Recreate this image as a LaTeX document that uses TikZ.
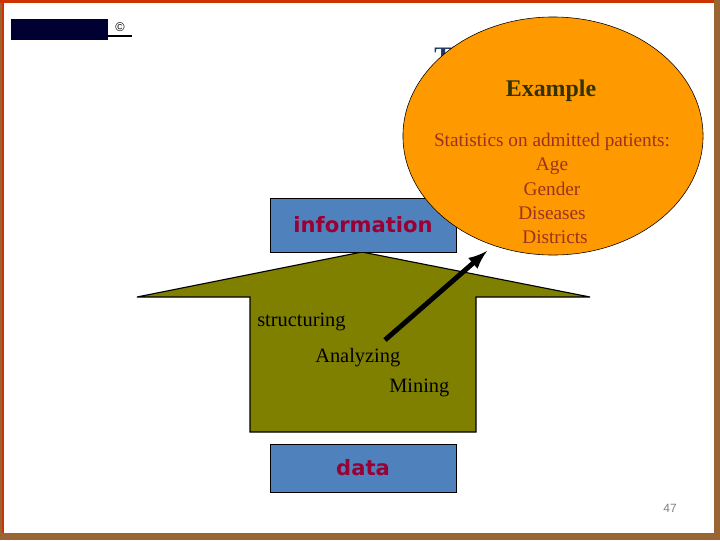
\documentclass[tikz,border=0pt]{standalone}
\usepackage{fontspec}
\setmainfont{Liberation Serif}
\setsansfont{Liberation Sans}
\newfontfamily\boxfont{DejaVu Sans}
\usetikzlibrary{shapes.geometric}

\definecolor{framebrown}{HTML}{996633}
\definecolor{framered}{HTML}{CC3300}
\definecolor{logonavy}{HTML}{000033}
\definecolor{titleblue}{HTML}{1F3864}
\definecolor{boxblue}{HTML}{4F81BD}
\definecolor{labelred}{HTML}{990033}
\definecolor{arrowolive}{HTML}{808000}
\definecolor{ovalorange}{HTML}{FF9900}
\definecolor{ovaltext}{HTML}{993322}
\definecolor{headdark}{HTML}{333300}

\begin{document}
\begin{tikzpicture}[x=0.025cm, y=-0.025cm]
	% Node style
	\tikzstyle{block} = [rectangle, draw=black, fill=boxblue, text=labelred, font=\boxfont\bfseries\fontsize{15}{18}\selectfont, minimum width=4.65cm, minimum height=1.35cm, inner sep=0pt]
	\tikzstyle{stage} = [anchor=west, inner sep=0pt, font=\fontsize{14.5}{17}\selectfont]
	\tikzstyle{item} = [inner sep=0pt, text=ovaltext, font=\fontsize{13.7}{16}\selectfont]
	
	% Frame
	\useasboundingbox (0,0) rectangle (720,540);
	\fill[framebrown] (0,0) rectangle (720,540);
	\fill[white] (2,3) rectangle (714,533);
	\fill[framered] (0,0) rectangle (714,3);
	\fill[framered] (2,3) rectangle (4,533);
	
	% Logo
	\fill[logonavy] (11,19) rectangle (108,40);
	\node[inner sep=0pt, font=\sffamily\fontsize{9}{10}\selectfont] (copyright) at (120,27) {\textcopyright};
	\draw[line width=1.2pt] (108,36) -- (132,36);
	
	% Title, mostly hidden by the oval
	\node[anchor=west, inner sep=0pt, text=titleblue, font=\bfseries\fontsize{19}{22}\selectfont] (title) at (434,56) {Th};
	
	% Big arrow
	\filldraw[fill=arrowolive, draw=black, line width=0.8pt] (250,432) -- (250,297) -- (137,297) -- (362,252) -- (590,297) -- (476,297) -- (476,432) -- cycle;
	
	% Nodes
	\node[block] (information) at (363,225) {information};
	\node[block, minimum height=1.2cm] (data) at (363,468) {data};
	
	\node[stage] (structuring) at (257,322) {structuring};
	\node[stage] (analyzing) at (315,358) {Analyzing};
	\node[stage] (mining) at (389,388) {Mining};
	
	\node[ellipse, draw=black, fill=ovalorange, minimum width=7.5cm, minimum height=5.95cm] (example) at (553,136) {};
	\node[inner sep=0pt, text=headdark, font=\bfseries\fontsize{17}{20}\selectfont] (heading) at (551,91) {Example};
	\node[item] (stats) at (552,142) {Statistics on admitted patients:};
	\node[item] (age) at (552,166) {Age};
	\node[item] (gender) at (552,189) {Gender};
	\node[item] (diseases) at (552,213) {Diseases};
	\node[item] (districts) at (555,237) {Districts};
	
	\node[inner sep=0pt, text=gray, font=\sffamily\fontsize{8.5}{10}\selectfont] (page) at (670,508) {47};
	
	% Arrows
	\coordinate (from) at (385,340);
	\coordinate (to) at (487,251);
	\draw[-latex, line width=3.5pt] (from) -- (to);
\end{tikzpicture}
\end{document}
